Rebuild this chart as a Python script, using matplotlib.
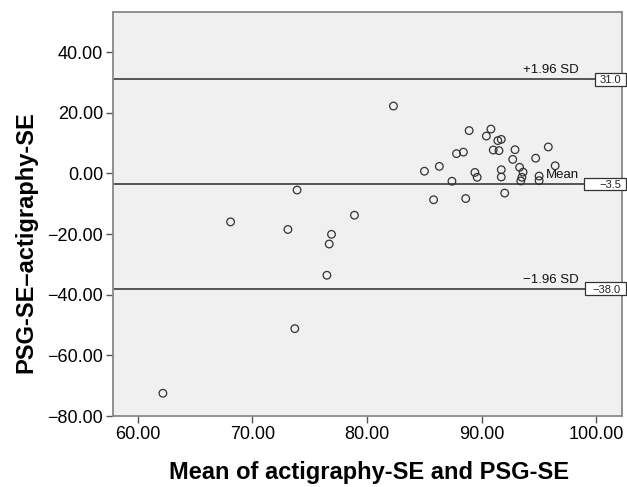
import matplotlib.pyplot as plt
import matplotlib.transforms as mtransforms
from matplotlib.patches import Rectangle

plt.rcParams['font.family'] = ['Liberation Sans', 'DejaVu Sans']

# Mean of the two methods (x) and their difference (y)
meanSE = [62.2, 68.1, 73.1, 73.7, 73.9, 76.5, 76.7, 76.9, 78.9, 82.3,
          85.0, 85.8, 86.3, 87.4, 87.8, 88.4, 88.6, 88.9, 89.4, 89.6,
          90.4, 90.8, 91.0, 91.4, 91.5, 91.7, 91.7, 91.7, 92.0, 92.7,
          92.9, 93.3, 93.4, 93.5, 93.6, 94.7, 95.0, 95.0, 95.8, 96.4]
diffSE = [-72.5, -16.0, -18.5, -51.2, -5.5, -33.6, -23.3, -20.1, -13.8, 22.2,
          0.7, -8.7, 2.3, -2.6, 6.5, 7.0, -8.3, 14.1, 0.3, -1.3,
          12.3, 14.6, 7.7, 10.8, 7.5, 11.2, 1.2, -1.2, -6.5, 4.6,
          7.8, 2.0, -2.5, -1.3, 0.4, 5.0, -0.9, -2.4, 8.7, 2.5]

refValues = [31.0, -3.5, -38.0]
refNames = ['+1.96 SD', 'Mean', '\u22121.96 SD']
refBoxText = ['31.0', '\u22123.5', '\u221238.0']

xTicks = [60, 70, 80, 90, 100]
yTicks = [40, 20, 0, -20, -40, -60, -80]

fig = plt.figure(figsize=(6.27, 4.87), dpi=100)
ax = fig.add_axes([113 / 627, 1 - 416 / 487, 508.7 / 627, 404 / 487])
ax.set_facecolor('#f0f0f0')

ax.set_xlim(57.85, 102.2)
ax.set_ylim(-80, 53.2)

# Reference lines: limits of agreement and mean
trans = mtransforms.blended_transform_factory(ax.transAxes, ax.transData)
axWidth = 508.7
for val, name, boxText, boxLeft in zip(refValues, refNames, refBoxText, [595, 584, 585]):
    ax.axhline(val, color='#555555', lw=1.4, zorder=1)
    ax.text((579 - 113) / axWidth, val + 1.0, name, transform=trans,
            ha='right', va='bottom', fontsize=9.5, color='#111111')
    rect = Rectangle(((boxLeft - 113) / axWidth, val - 2.1), (626 - boxLeft) / axWidth, 4.2,
                     transform=trans, facecolor='white', edgecolor='#333333', lw=0.9,
                     clip_on=False, zorder=5)
    ax.add_patch(rect)
    ax.text((621 - 113) / axWidth, val - 0.3, boxText, transform=trans, ha='right',
            va='center', fontsize=8, color='#222222', zorder=6, clip_on=False)

ax.scatter(meanSE, diffSE, s=30, facecolors='none', edgecolors='#333333',
           linewidths=0.9, zorder=3)

ax.set_xticks(xTicks)
ax.set_yticks(yTicks)
ax.set_xticklabels([f'{t:.2f}' for t in xTicks])
ax.set_yticklabels([f'{t:.2f}'.replace('-', '\u2212') for t in yTicks])
ax.tick_params(axis='both', labelsize=13, length=5, width=1, color='#555555', pad=2)

for sp in ax.spines.values():
    sp.set_color('#888888')
    sp.set_linewidth(1.3)

fig.text(369 / 627, 1 - 479 / 487, 'Mean of actigraphy-SE and PSG-SE',
         ha='center', va='baseline', fontsize=17, fontweight='bold')
fig.text(32 / 627, 1 - 242 / 487, 'PSG-SE\u2013actigraphy-SE', rotation=90,
         rotation_mode='anchor', ha='center', va='baseline', fontsize=17,
         fontweight='bold')

fig.savefig('out.png', dpi=100)
